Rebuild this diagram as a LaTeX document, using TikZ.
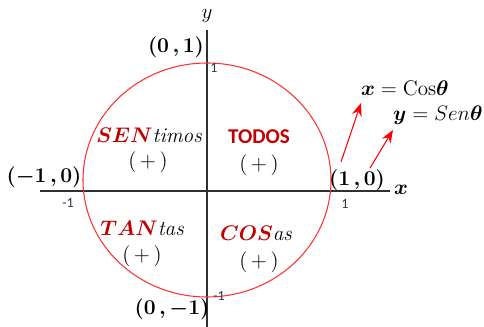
\documentclass[tikz,border=0pt]{standalone}
\usepackage{amsmath,amssymb,bm}
\usepackage{fontspec}
\usetikzlibrary{arrows.meta,positioning}
\newfontfamily\calib{Carlito}
\definecolor{circred}{HTML}{FF3030}
\definecolor{wordred}{HTML}{C00000}
\definecolor{axisgray}{HTML}{303030}
\definecolor{ticktext}{HTML}{303850}
\tikzset{
  axis/.style={draw=axisgray, line width=0.7pt},
  unitcirc/.style={draw=circred, line width=0.6pt},
  pointlbl/.style={font=\large, inner sep=1pt},
  ticklbl/.style={font=\calib\footnotesize, text=ticktext, inner sep=1pt},
  quadword/.style={font=\large, inner sep=1pt},
  signlbl/.style={font=\large, inner sep=1pt},
  redarr/.style={-{Stealth[length=2.6mm,width=2mm]}, draw=red, line width=0.6pt}
}
\begin{document}
\begin{tikzpicture}[x=0.02cm,y=-0.02cm]
  \useasboundingbox (0,0) rectangle (484,327);
  % axes
  \coordinate (xl) at (40,191);
  \coordinate (xr) at (390,191);
  \coordinate (yt) at (207,30);
  \coordinate (yb) at (207,327);
  \draw[axis] (xl) -- (xr);
  \draw[axis] (yt) -- (yb);
  \node[font=\large] (ylab) at (207,16) {$y$};
  \node[font=\large] (xlab) at (401,190) {$\bm{x}$};
  % circle
  \draw[unitcirc] (207,180) ellipse [x radius=124, y radius=117];
  % points on the circle
  \node[pointlbl] (p01) at (176,47) {$\bm{(0\,,1)}$};
  \node[pointlbl] (p10) at (357,180) {$\bm{(1\,,0)}$};
  \node[pointlbl] (pm10) at (44,177) {$\bm{(-1\,,0)}$};
  \node[pointlbl] (p0m1) at (172,309) {$\bm{(0\,,-1)}$};
  % ticks
  \node[ticklbl] (t1y) at (214,68) {1};
  \node[ticklbl] (t1x) at (345,204) {1};
  \node[ticklbl] (tm1x) at (68,203) {-1};
  \node[ticklbl] (tm1y) at (219,296) {-1};
  % quadrants
  \node[quadword] (sen) at (149,135) {$\textcolor{wordred}{\bm{SEN}}\mathit{timos}$};
  \node[signlbl] (sens) at (148,162) {$(\,+\,)$};
  \node[quadword, font=\calib\bfseries\large, text=wordred] (todos) at (259,137) {TODOS};
  \node[signlbl] (todoss) at (259,165) {$(\,+\,)$};
  \node[quadword] (tan) at (142,228) {$\textcolor{wordred}{\bm{TAN}}\mathit{tas}$};
  \node[signlbl] (tans) at (142,256) {$(\,+\,)$};
  \node[quadword] (cos) at (256,233) {$\textcolor{wordred}{\bm{COS}}\mathit{as}$};
  \node[signlbl] (coss) at (259,262) {$(\,+\,)$};
  % formulas
  \node[font=\large, anchor=west] (xcos) at (355,88) {$\bm{x} = \mathrm{Cos}\bm{\theta}$};
  \node[font=\large, anchor=west] (ysen) at (387,115) {$\bm{y} = Sen\bm{\theta}$};
  \coordinate (a1s) at (341,162);
  \coordinate (a1e) at (361,103);
  \coordinate (a2s) at (370,168);
  \coordinate (a2e) at (393,130);
  \draw[redarr] (a1s) -- (a1e);
  \draw[redarr] (a2s) -- (a2e);
\end{tikzpicture}
\end{document}
